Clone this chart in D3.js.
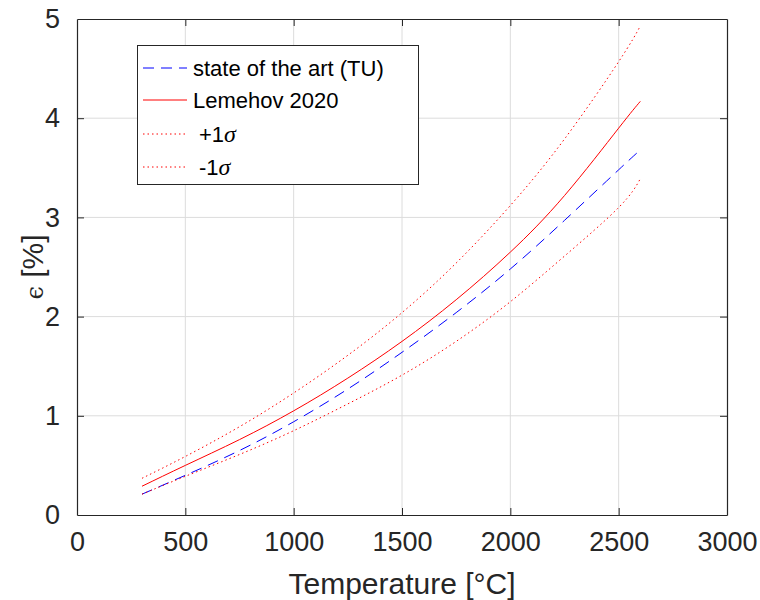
<!DOCTYPE html>
<html>
<head>
<meta charset="utf-8">
<script src="https://cdn.jsdelivr.net/npm/d3@7"></script>
<style>
  body { margin: 0; background: #fff; }
  text { font-family: "Liberation Sans", Arial, sans-serif; fill: #262626; }
</style>
</head>
<body>
<div id="chart"></div>
<script>
var temps = [300, 500, 750, 1000, 1250, 1500, 1750, 2000, 2250, 2500, 2600];
var stateOfArt = [0.21, 0.40, 0.65, 0.94, 1.27, 1.64, 2.04, 2.48, 2.97, 3.48, 3.68];
var lemehov = [0.29, 0.50, 0.76, 1.05, 1.38, 1.75, 2.17, 2.65, 3.22, 3.90, 4.17];
var plusSigma = [0.37, 0.59, 0.89, 1.23, 1.61, 2.04, 2.54, 3.12, 3.79, 4.57, 4.93];
var minusSigma = [0.21, 0.39, 0.61, 0.85, 1.12, 1.41, 1.75, 2.15, 2.61, 3.10, 3.39];
var xTicks = [0, 500, 1000, 1500, 2000, 2500, 3000];
var yTicks = [0, 1, 2, 3, 4, 5];

var width = 760, height = 600;
var plotLeft = 77, plotRight = 727, plotTop = 19, plotBottom = 515;

var svg = d3.select("#chart")
  .append("svg")
  .attr("width", width)
  .attr("height", height);

var x = d3.scaleLinear().domain([0, 3000]).range([plotLeft, plotRight]);
var y = d3.scaleLinear().domain([0, 5]).range([plotBottom, plotTop]);

// grid
svg.append("g")
  .selectAll("line")
  .data(xTicks.slice(1, -1))
  .join("line")
  .attr("x1", function(d) { return x(d); })
  .attr("x2", function(d) { return x(d); })
  .attr("y1", plotTop).attr("y2", plotBottom)
  .attr("stroke", "#dcdcdc").attr("stroke-width", 1);
svg.append("g")
  .selectAll("line")
  .data(yTicks.slice(1, -1))
  .join("line")
  .attr("y1", function(d) { return y(d); })
  .attr("y2", function(d) { return y(d); })
  .attr("x1", plotLeft).attr("x2", plotRight)
  .attr("stroke", "#dcdcdc").attr("stroke-width", 1);

// curves
var series = [
  { name: "state of the art (TU)", values: stateOfArt, color: "#0000ff", dash: "11,7" },
  { name: "Lemehov 2020", values: lemehov, color: "#ff0000", dash: null },
  { name: "+1", values: plusSigma, color: "#ff0000", dash: "1.5,3" },
  { name: "-1", values: minusSigma, color: "#ff0000", dash: "1.5,3" }
];

var line = d3.line()
  .x(function(d, i) { return x(temps[i]); })
  .y(function(d) { return y(d); })
  .curve(d3.curveNatural);

series.forEach(function(s) {
  svg.append("path")
    .datum(s.values)
    .attr("d", line)
    .attr("fill", "none")
    .attr("stroke", s.color)
    .attr("stroke-width", 1)
    .attr("stroke-dasharray", s.dash);
});

// axes (box with inward ticks on all four sides)
var axisColor = "#262626";
var xb = svg.append("g").attr("transform", "translate(0," + plotBottom + ")")
  .call(d3.axisBottom(x).tickValues(xTicks).tickFormat(d3.format("d"))
    .tickSizeInner(-7).tickSizeOuter(0).tickPadding(17));
var xt = svg.append("g").attr("transform", "translate(0," + plotTop + ")")
  .call(d3.axisTop(x).tickValues(xTicks).tickSizeInner(-7).tickSizeOuter(0).tickFormat(""));
var yl = svg.append("g").attr("transform", "translate(" + plotLeft + ",0)")
  .call(d3.axisLeft(y).tickValues(yTicks).tickFormat(d3.format("d"))
    .tickSizeInner(-7).tickSizeOuter(0).tickPadding(17));
var yr = svg.append("g").attr("transform", "translate(" + plotRight + ",0)")
  .call(d3.axisRight(y).tickValues(yTicks).tickSizeInner(-7).tickSizeOuter(0).tickFormat(""));

[xb, xt, yl, yr].forEach(function(g) {
  g.select(".domain").attr("stroke", axisColor).attr("stroke-width", 1.2);
  g.selectAll(".tick line").attr("stroke", axisColor);
  g.selectAll(".tick text")
    .attr("font-size", 27)
    .attr("font-family", "Liberation Sans, Arial, sans-serif")
    .attr("fill", "#262626");
});
// hide end ticks that sit on the frame
[xb, xt].forEach(function(g) {
  g.selectAll(".tick line").filter(function(d) { return d === 0 || d === 3000; }).remove();
});
[yl, yr].forEach(function(g) {
  g.selectAll(".tick line").filter(function(d) { return d === 0 || d === 5; }).remove();
});

// axis labels
svg.append("text")
  .attr("x", (plotLeft + plotRight) / 2)
  .attr("y", 594)
  .attr("text-anchor", "middle")
  .attr("font-size", 30)
  .text("Temperature [°C]");

var yLab = svg.append("text")
  .attr("transform", "translate(43," + ((plotTop + plotBottom) / 2) + ") rotate(-90)")
  .attr("text-anchor", "middle")
  .attr("font-size", 30);
yLab.append("tspan").attr("font-family", "DejaVu Serif, serif").attr("font-size", 24).text("ϵ");
yLab.append("tspan").text(" [%]");

// legend
var lg = svg.append("g");
lg.append("rect")
  .attr("x", 137.5).attr("y", 45.5)
  .attr("width", 281).attr("height", 139)
  .attr("fill", "#fff")
  .attr("stroke", axisColor).attr("stroke-width", 1);

var rowY = [68, 100, 134, 167];
series.forEach(function(s, i) {
  lg.append("line")
    .attr("x1", 143).attr("x2", 187)
    .attr("y1", rowY[i]).attr("y2", rowY[i])
    .attr("stroke", s.color).attr("stroke-width", 1)
    .attr("stroke-dasharray", s.dash);
  var t = lg.append("text")
    .attr("x", i < 2 ? 193 : 199)
    .attr("y", rowY[i] + 8)
    .attr("font-size", 22)
    .style("fill", "#000");
  t.append("tspan").text(s.name);
  if (i >= 2) {
    t.append("tspan")
      .attr("font-family", "Liberation Serif, serif")
      .attr("font-style", "italic")
      .attr("font-size", 24)
      .text("σ");
  }
});
</script>
</body>
</html>
